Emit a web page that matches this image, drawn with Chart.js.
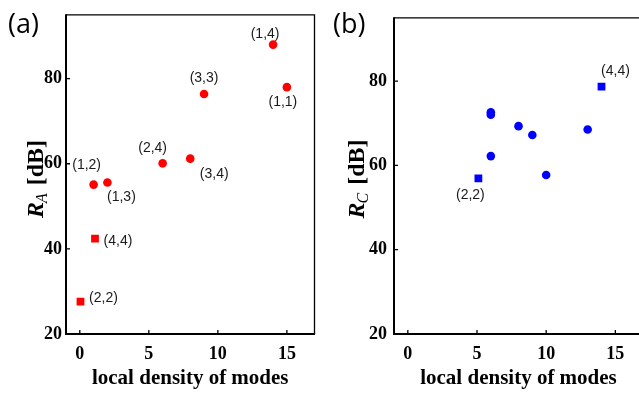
<!DOCTYPE html>
<html>
<head>
<meta charset="utf-8">
<script src="https://cdn.jsdelivr.net/npm/chart.js@4.4.1/dist/chart.umd.min.js"></script>
<style>
  html, body { margin: 0; padding: 0; background: #fff; overflow: hidden; }
  #wrap { position: relative; width: 639px; height: 393px; overflow: hidden; background: #fff; }
  .pane { position: absolute; top: 0; height: 393px; }
</style>
</head>
<body>
<div id="wrap">
  <div class="pane" style="left:0;width:320px"><canvas id="ca" width="320" height="393"></canvas></div>
  <div class="pane" style="left:320px;width:330px"><canvas id="cb" width="330" height="393"></canvas></div>
</div>
<script>
// ---------- data ----------
const xTicks = [0, 5, 10, 15];
const yTicks = [20, 40, 60, 80];
const xTitle = 'local density of modes';

// panel (a) : R_A
const aCircX = [1, 2, 6, 8, 9, 14, 15];
const aCircY = [55.1, 55.6, 60.1, 61.2, 76.4, 88.0, 78.0];
const aCircLabels = ['(1,2)', '(1,3)', '(2,4)', '(3,4)', '(3,3)', '(1,4)', '(1,1)'];
const aSqX = [1.1, 0.05];
const aSqY = [42.4, 27.6];
const aSqLabels = ['(4,4)', '(2,2)'];

// panel (b) : R_C
const bCircX = [6, 6, 6, 8, 9, 10, 13];
const bCircY = [72.6, 72.0, 62.2, 69.3, 67.2, 57.7, 68.5];
const bCircLabels = ['', '', '', '', '', '', ''];
const bSqX = [5.1, 14];
const bSqY = [56.9, 78.7];
const bSqLabels = ['(2,2)', '(4,4)'];

// label placement offsets (pixels from the marker centre)
const aCircOffsets = [[-7, -19], [14, 15], [-10, -15], [24, 15], [0, -16], [-8, -10], [-4, 15]];
const aSqOffsets = [[23, 2], [23, -4]];
const bCircOffsets = [[0, 0], [0, 0], [0, 0], [0, 0], [0, 0], [0, 0], [0, 0]];
const bSqOffsets = [[-8, 17], [14, -15]];

// ---------- helpers ----------
const toPts = (xs, ys) => xs.map((x, i) => ({ x: x, y: ys[i] }));
const SERIF = '"Liberation Serif", "Times New Roman", serif';

const framePlugin = {
  id: 'frame',
  afterDraw(chart) {
    const { ctx, chartArea: a } = chart;
    const xs = chart.scales.x, ys = chart.scales.y;
    ctx.save();
    ctx.strokeStyle = '#000';
    ctx.lineWidth = 1.3;
    ctx.beginPath();
    ctx.moveTo(a.left, a.top); ctx.lineTo(a.right, a.top); ctx.lineTo(a.right, a.bottom);
    ctx.stroke();
    ctx.lineWidth = 2;
    ctx.beginPath();
    ctx.moveTo(a.left, a.top - 0.6); ctx.lineTo(a.left, a.bottom); ctx.lineTo(a.right + 0.6, a.bottom);
    ctx.stroke();
    ctx.lineWidth = 1.3;
    ctx.beginPath();
    xs.ticks.forEach(t => {
      const px = xs.getPixelForValue(t.value);
      ctx.moveTo(px, a.bottom); ctx.lineTo(px, a.bottom - 4);
    });
    ys.ticks.forEach(t => {
      const py = ys.getPixelForValue(t.value);
      ctx.moveTo(a.left, py); ctx.lineTo(a.left + 4, py);
    });
    ctx.stroke();
    ctx.restore();
  }
};

const labelPlugin = {
  id: 'ptlabels',
  afterDatasetsDraw(chart) {
    const { ctx } = chart;
    ctx.save();
    ctx.font = '14px "Liberation Sans", Arial, sans-serif';
    ctx.fillStyle = '#1a1a1a';
    ctx.textAlign = 'center';
    ctx.textBaseline = 'middle';
    chart.data.datasets.forEach((ds, di) => {
      const meta = chart.getDatasetMeta(di);
      (ds.pointLabels || []).forEach((txt, i) => {
        if (!txt) return;
        const el = meta.data[i];
        const off = ds.labelOffsets[i];
        ctx.fillText(txt, el.x + off[0], el.y + off[1]);
      });
    });
    ctx.restore();
  }
};

const decoPlugin = {
  id: 'deco',
  afterDraw(chart, args, opts) {
    const { ctx } = chart;
    ctx.save();
    ctx.fillStyle = '#000';
    ctx.font = '27px "Open Sans", "DejaVu Sans", sans-serif';
    ctx.textAlign = 'left';
    ctx.textBaseline = 'middle';
    ctx.fillText(opts.panel, opts.panelX, opts.panelY);
    ctx.translate(opts.titleX, opts.titleY);
    ctx.rotate(-Math.PI / 2);
    const fR = 'italic bold 24px ' + SERIF;
    const fS = 'italic 16px ' + SERIF;
    const fB = 'bold 24px ' + SERIF;
    const rest = ' [dB]';
    ctx.font = fR; const wR = ctx.measureText('R').width;
    ctx.font = fS; const wS = ctx.measureText(opts.sub).width;
    ctx.font = fB; const wB = ctx.measureText(rest).width;
    const total = wR + wS + 1 + wB;
    let x = -total / 2;
    ctx.textBaseline = 'alphabetic';
    const base = 8;
    ctx.font = fR; ctx.fillText('R', x, base); x += wR;
    ctx.font = fS; ctx.fillText(opts.sub, x - 1, base + 4); x += wS + 1;
    ctx.font = fB; ctx.fillText(rest, x, base);
    ctx.restore();
  }
};

function makeChart(id, cfg) {
  const tickFont = { family: SERIF, weight: 'bold', size: 18 };
  return new Chart(document.getElementById(id), {
    type: 'scatter',
    data: {
      datasets: [
        {
          data: toPts(cfg.cx, cfg.cy), pointLabels: cfg.cl, labelOffsets: cfg.co,
          pointStyle: 'circle', pointRadius: 4.3, pointHoverRadius: 4.3,
          backgroundColor: cfg.color, borderColor: cfg.color, borderWidth: 0
        },
        {
          data: toPts(cfg.sx, cfg.sy), pointLabels: cfg.sl, labelOffsets: cfg.so,
          pointStyle: 'rect', pointRadius: 5.5, pointHoverRadius: 5.5,
          backgroundColor: cfg.color, borderColor: cfg.color, borderWidth: 0
        }
      ]
    },
    options: {
      responsive: false,
      animation: false,
      devicePixelRatio: 1,
      layout: { padding: { left: 0, right: cfg.padRight, top: cfg.padTop, bottom: 0 } },
      plugins: {
        legend: { display: false },
        tooltip: { enabled: false },
        deco: { panel: cfg.panel, panelX: cfg.panelX, panelY: 25, titleX: cfg.titleX, titleY: 179, sub: cfg.sub }
      },
      scales: {
        x: {
          type: 'linear', min: -1, max: 17,
          afterBuildTicks: s => { s.ticks = xTicks.map(v => ({ value: v })); },
          afterFit: s => { s.height = 59; },
          grid: { display: false, drawTicks: false },
          border: { display: false },
          ticks: { font: tickFont, color: '#000', padding: 10, maxRotation: 0 },
          title: {
            display: true, text: xTitle, color: '#000',
            font: { family: SERIF, weight: 'bold', size: 21, lineHeight: 1.2 },
            padding: { top: 0, bottom: 2 }
          }
        },
        y: {
          type: 'linear', min: 20, max: 95,
          afterBuildTicks: s => { s.ticks = yTicks.map(v => ({ value: v })); },
          afterFit: s => { s.width = cfg.yWidth; },
          grid: { display: false, drawTicks: false },
          border: { display: false },
          ticks: { font: tickFont, color: '#000', padding: cfg.yPad }
        }
      }
    },
    plugins: [framePlugin, labelPlugin, decoPlugin]
  });
}

makeChart('ca', {
  cx: aCircX, cy: aCircY, cl: aCircLabels, co: aCircOffsets,
  sx: aSqX, sy: aSqY, sl: aSqLabels, so: aSqOffsets,
  color: '#ff0000', padRight: 5, padTop: 10, yWidth: 66, yPad: 4,
  panel: '(a)', panelX: 8, titleX: 35, sub: 'A'
});
makeChart('cb', {
  cx: bCircX, cy: bCircY, cl: bCircLabels, co: bCircOffsets,
  sx: bSqX, sy: bSqY, sl: bSqLabels, so: bSqOffsets,
  color: '#0000ff', padRight: 7, padTop: 11, yWidth: 74, yPad: 7,
  panel: '(b)', panelX: 13, titleX: 36, sub: 'C'
});
</script>
</body>
</html>
